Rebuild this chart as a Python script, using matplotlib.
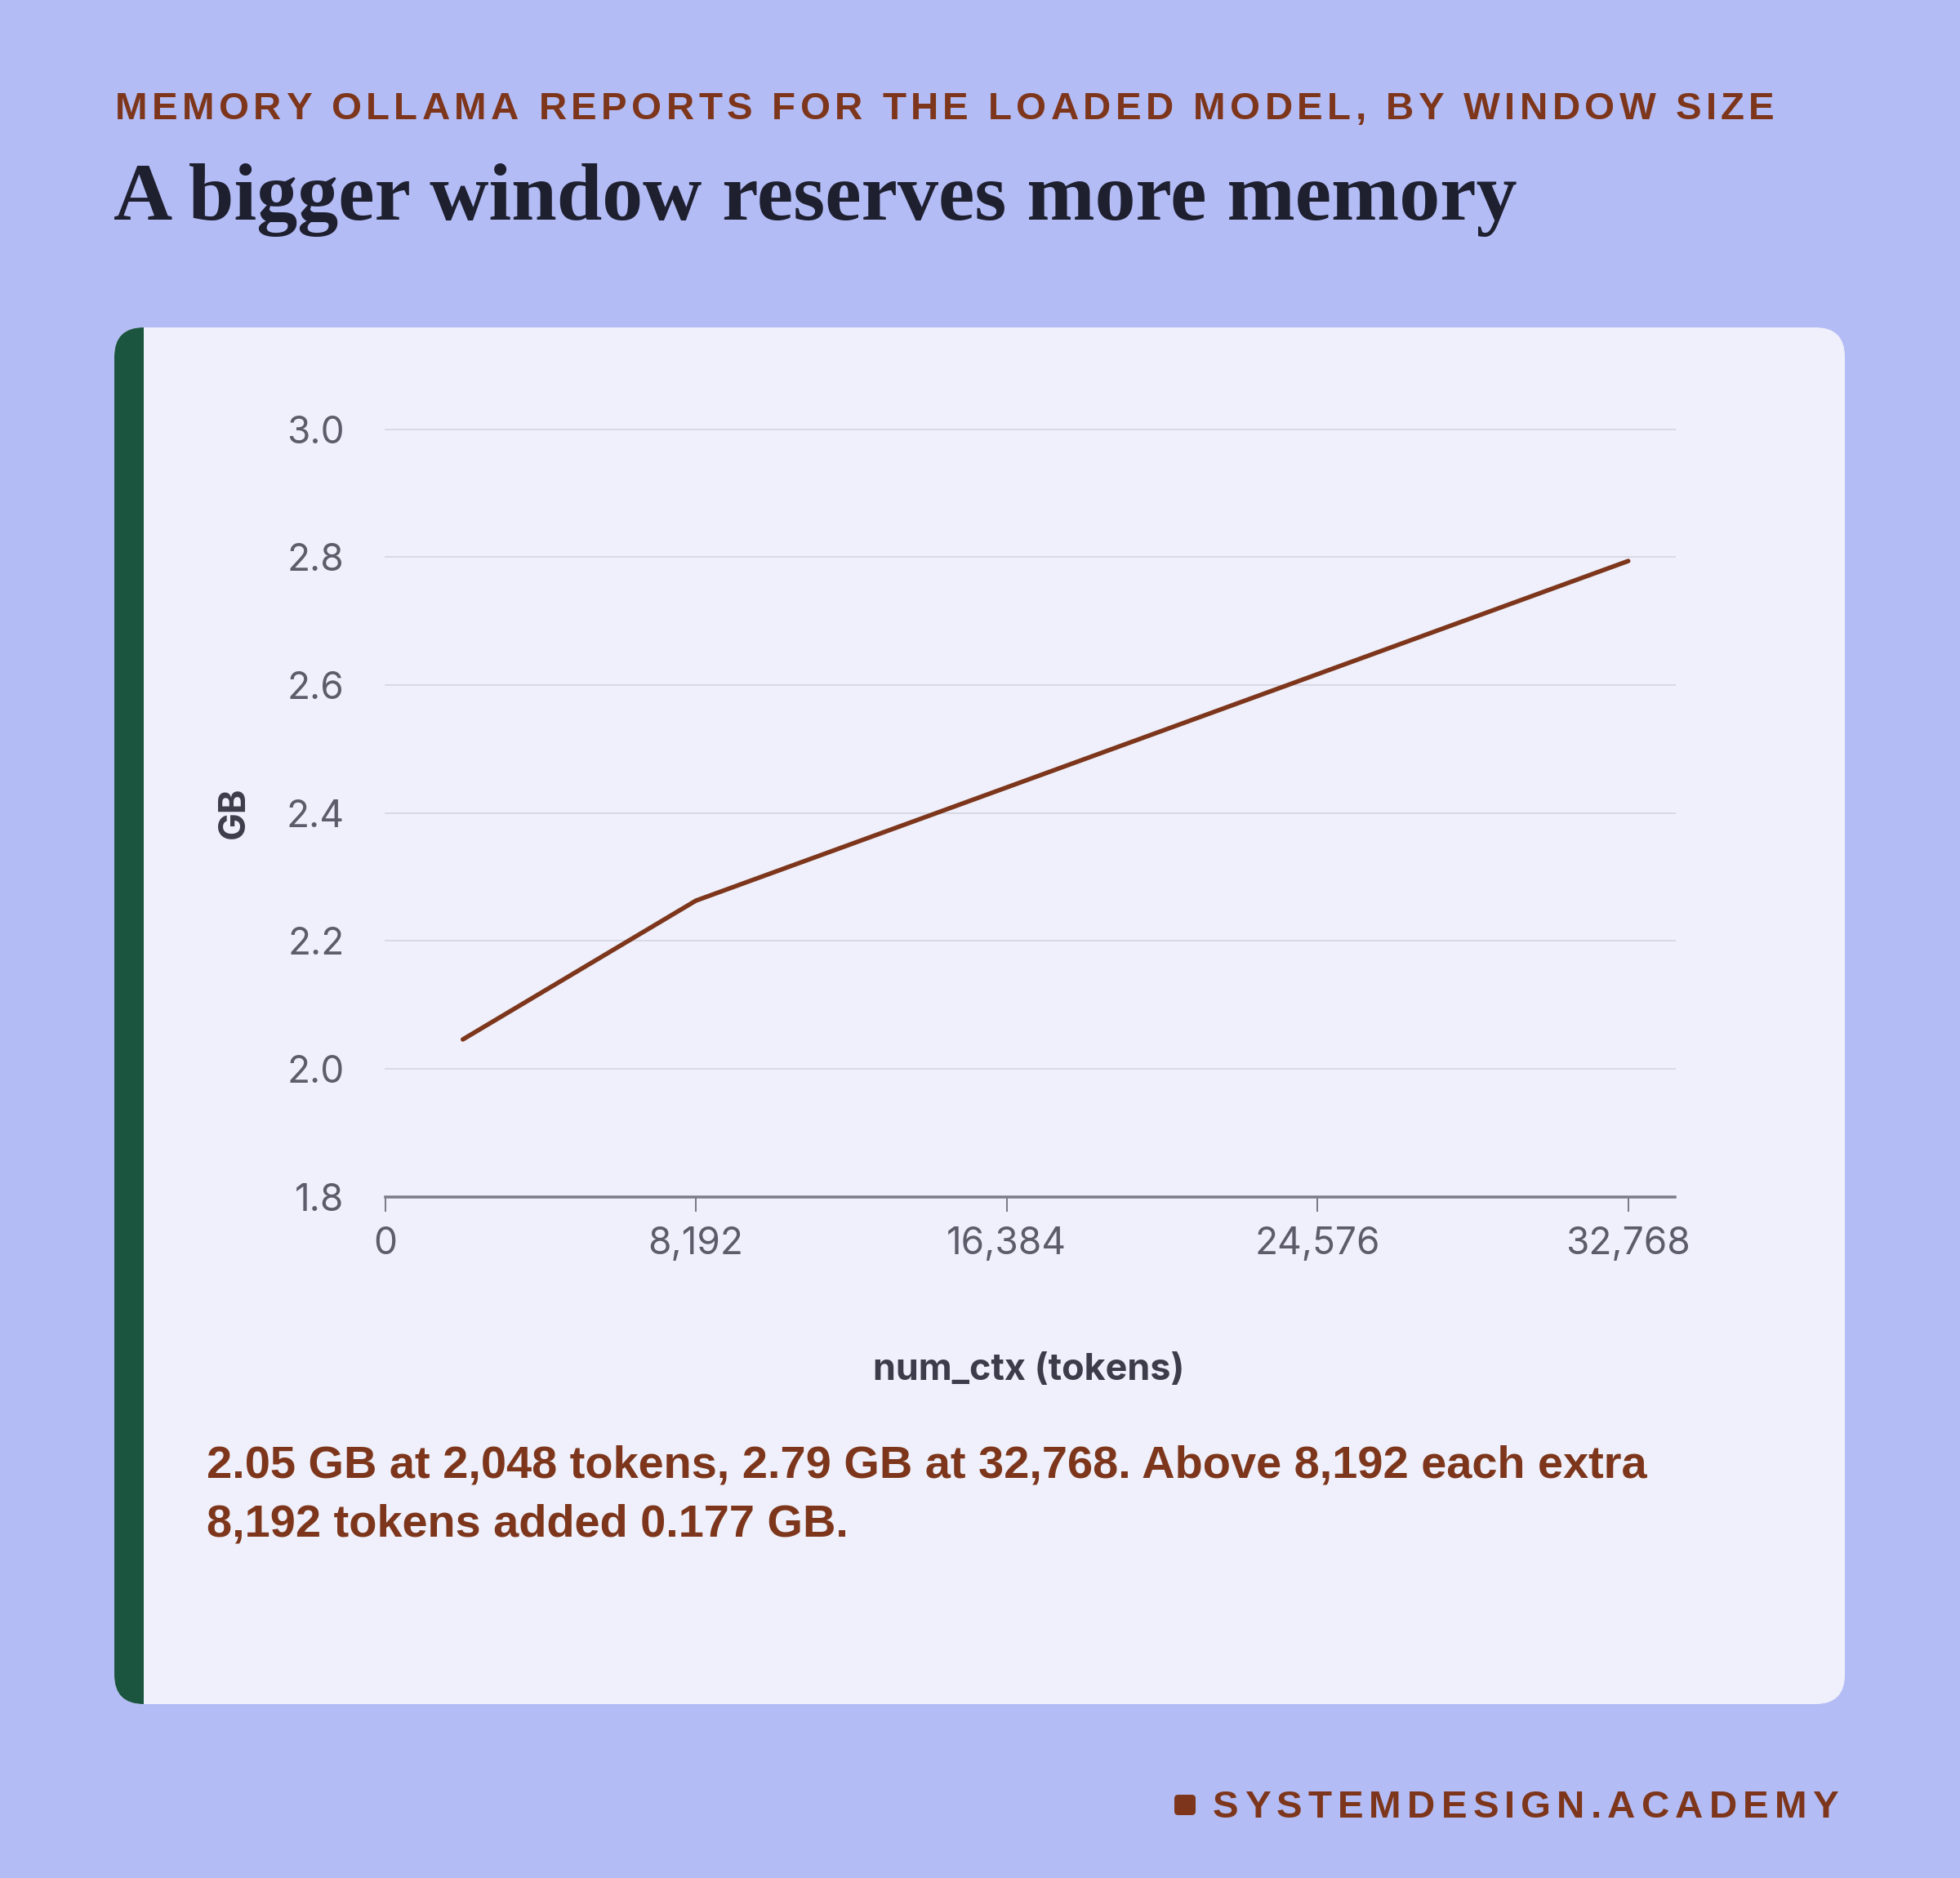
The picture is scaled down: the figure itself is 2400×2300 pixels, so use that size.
import matplotlib
matplotlib.use("Agg")
import matplotlib.pyplot as plt
from matplotlib.patches import FancyBboxPatch, Rectangle
from matplotlib.font_manager import FontProperties

# ---------------- data ----------------
num_ctx = [2048, 8192, 16384, 24576, 32768]
gb = [2.046, 2.263, 2.440, 2.617, 2.794]
x_ticks = [0, 8192, 16384, 24576, 32768]
x_tick_labels = ["0", "8,192", "16,384", "24,576", "32,768"]
y_ticks = [1.8, 2.0, 2.2, 2.4, 2.6, 2.8, 3.0]
y_tick_labels = ["1.8", "2.0", "2.2", "2.4", "2.6", "2.8", "3.0"]

kicker = "MEMORY OLLAMA REPORTS FOR THE LOADED MODEL, BY WINDOW SIZE"
title = "A bigger window reserves more memory"
note_lines = ["2.05 GB at 2,048 tokens, 2.79 GB at 32,768. Above 8,192 each extra",
              "8,192 tokens added 0.177 GB."]
footer = "SYSTEMDESIGN.ACADEMY"
x_label = "num_ctx (tokens)"
y_label = "GB"

# ---------------- style ----------------
W, H, DPI = 2400, 2300, 200
BG = "#b4bcf5"
CARD = "#eff0fb"
GREEN = "#1b5540"
BROWN = "#7d361b"
INK = "#1e2030"
TICK = "#5c5c6a"
AXLAB = "#3c3c4a"
AXLINE = "#7b7b89"
GRID = "#d9d9e6"

def px(v):  # pixels -> points
    return v * 72.0 / DPI

def fx(x):
    return x / W

def fy(y):
    return 1 - y / H

fig = plt.figure(figsize=(W / DPI, H / DPI), dpi=DPI)
fig.patch.set_facecolor(BG)

# card
card = FancyBboxPatch((fx(140), fy(2087)), fx(2259) - fx(140), fy(401) - fy(2087),
                      boxstyle="round,pad=0,rounding_size=0.015",
                      transform=fig.transFigure, facecolor=CARD, edgecolor="none",
                      mutation_aspect=W / H, zorder=0)
fig.add_artist(card)
stripe = Rectangle((fx(140), fy(2087)), fx(176) - fx(140), fy(401) - fy(2087),
                   transform=fig.transFigure, facecolor=GREEN, edgecolor="none", zorder=0.5)
fig.add_artist(stripe)
stripe.set_clip_path(card)

renderer = fig.canvas.get_renderer()

def char_width(ch, fp):
    w1, _, _ = renderer.get_text_width_height_descent("|" + ch + "|", fp, ismath=False)
    w0, _, _ = renderer.get_text_width_height_descent("||", fp, ismath=False)
    return w1 - w0

def tracked(text, x0, x1, baseline, fp, color):
    widths = [char_width(c, fp) for c in text]
    natural = sum(widths)
    track = (x1 - x0 - natural) / (len(text) - 1)
    x = x0
    for c, w in zip(text, widths):
        if c != " ":
            fig.text(fx(x), fy(baseline), c, fontproperties=fp, color=color,
                     ha="left", va="baseline")
        x += w + track

# kicker
fp_kicker = FontProperties(family="Liberation Sans", weight="bold", size=px(47.5))
tracked(kicker, 141, 2173, 146, fp_kicker, BROWN)

# title
fig.text(fx(139), fy(269), title, family="Liberation Serif", weight="bold",
         size=px(100), color=INK, ha="left", va="baseline")

# axes
ax = fig.add_axes([fx(471.6), fy(1465.7), fx(2051) - fx(471.6), fy(525.7) - fy(1465.7)])
ax.set_facecolor("none")
ax.plot(num_ctx, gb, color=BROWN, lw=px(5.5), solid_capstyle="round", zorder=3)
ax.set_xlim(0, 34000)
ax.set_ylim(1.8, 3.0)
ax.set_xticks(x_ticks)
ax.set_xticklabels(x_tick_labels)
ax.set_yticks(y_ticks)
ax.set_yticklabels(y_tick_labels)
for s in ["top", "right", "left"]:
    ax.spines[s].set_visible(False)
ax.spines["bottom"].set_color(AXLINE)
ax.spines["bottom"].set_linewidth(px(3.5))
ax.grid(axis="y", color=GRID, lw=px(2))
ax.grid(axis="x", visible=False)
for gl in ax.get_ygridlines():
    gl.set_clip_on(False)
ax.tick_params(axis="x", direction="out", length=px(18), width=px(2), color=AXLINE,
               pad=px(18), labelcolor=TICK, labelsize=px(46))
ax.tick_params(axis="y", length=0, pad=px(50), labelcolor=TICK, labelsize=px(46))
for lab in ax.get_xticklabels() + ax.get_yticklabels():
    lab.set_family("Inter")

fig.text(fx(1260), fy(1690), x_label, family="Inter", weight="bold", size=px(45),
         color=AXLAB, ha="center", va="baseline")
fig.text(fx(287), fy(995), y_label, family="Inter", weight="bold", size=px(45),
         color=AXLAB, ha="center", va="center", rotation=90)

# note
fig.text(fx(253), fy(1810), note_lines[0], family="Liberation Sans", weight="bold",
         size=px(56), color=BROWN, ha="left", va="baseline")
fig.text(fx(253), fy(1882), note_lines[1], family="Liberation Sans", weight="bold",
         size=px(56), color=BROWN, ha="left", va="baseline")

# footer
sq = FancyBboxPatch((fx(1438), fy(2223)), fx(1464) - fx(1438), fy(2198) - fy(2223),
                    boxstyle="round,pad=0,rounding_size=0.002", transform=fig.transFigure,
                    facecolor=BROWN, edgecolor="none", mutation_aspect=W / H)
fig.add_artist(sq)
fp_footer = FontProperties(family="Liberation Sans", weight="bold", size=px(47.5))
tracked(footer, 1485, 2251, 2226, fp_footer, BROWN)

fig.savefig("out.png", dpi=DPI, facecolor=BG)
